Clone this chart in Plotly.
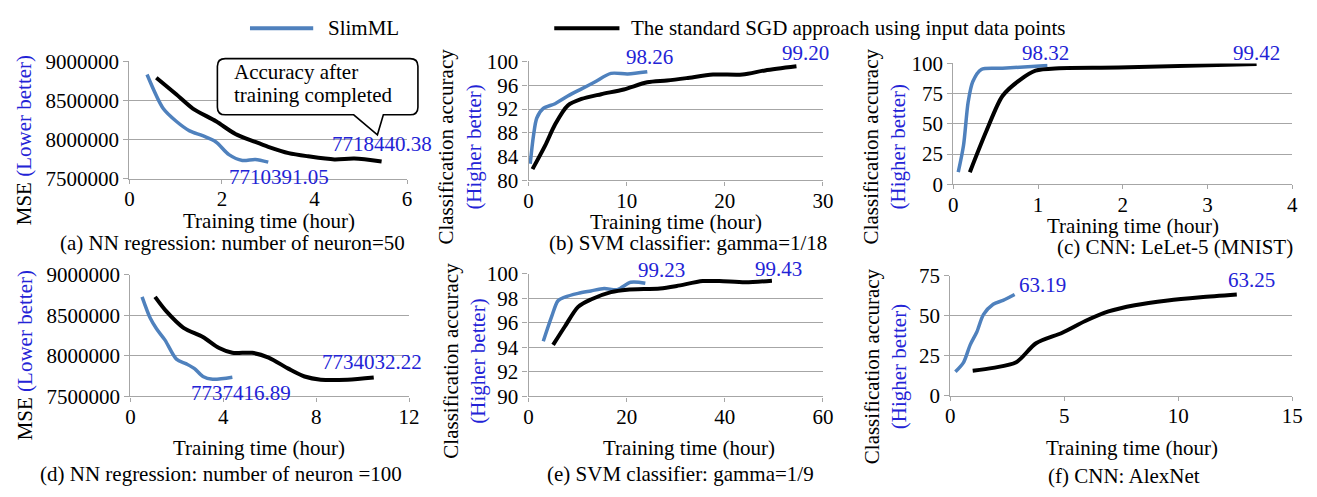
import plotly.graph_objects as go

W, H = 1317, 497
FONT = "Liberation Serif"
FS = 21
BLUE_LINE = "#4F81BD"
BLUE_TEXT = "#2323D6"
GRID = "#A6A6A6"

# ---- data: training time (hour) vs. metric ----
a_slim_t = [0.38, 0.73, 1.01, 1.30, 1.58, 1.87, 2.15, 2.44, 2.72, 3.0]
a_slim = [8833000, 8397000, 8234000, 8111000, 8050000, 7969000, 7806000, 7732000, 7745000, 7710391.05]
a_sgd_t = [0.58, 1.01, 1.37, 1.87, 2.29, 2.72, 3.0, 3.44, 3.86, 4.43, 4.86, 5.45]
a_sgd = [8792000, 8580000, 8397000, 8234000, 8071000, 7969000, 7907000, 7826000, 7785000, 7745000, 7757000, 7718440.38]

b_slim_t = [0.17, 0.5, 0.84, 1.5, 2.7, 4.0, 5.4, 6.7, 8.4, 10.1, 12.1]
b_slim = [82.8, 87.5, 90.5, 92.1, 92.9, 94.2, 95.4, 96.5, 98.0, 97.9, 98.26]
b_sgd_t = [0.4, 1.7, 2.7, 4.0, 5.4, 7.4, 9.7, 12.1, 14.1, 16.1, 18.8, 21.8, 24.1, 27.3]
b_sgd = [81.9, 85.9, 89.4, 92.6, 93.7, 94.5, 95.3, 96.5, 96.8, 97.2, 97.8, 97.8, 98.5, 99.20]

c_slim_t = [0.058, 0.12, 0.175, 0.23, 0.33, 0.58, 1.11]
c_slim = [10, 32, 68, 85, 95, 96, 98.32]
c_sgd_t = [0.195, 0.39, 0.58, 0.78, 0.97, 1.25, 1.95, 3.58]
c_sgd = [10, 44, 73, 86, 94, 96, 96.5, 99.42]

d_slim_t = [0.5, 0.85, 1.13, 1.49, 1.98, 2.41, 2.76, 3.12, 3.54, 4.39]
d_slim = [8727000, 8466000, 8330000, 8194000, 7960000, 7901000, 7843000, 7746000, 7712000, 7737416.89]
d_sgd_t = [1.06, 1.56, 2.27, 3.12, 3.82, 4.39, 5.24, 5.95, 6.8, 7.5, 8.2, 9.35, 10.48]
d_sgd = [8727000, 8544000, 8349000, 8233000, 8096000, 8038000, 8038000, 7979000, 7843000, 7746000, 7707000, 7707000, 7734032.22]

e_slim_t = [3.0, 4.7, 6.0, 7.4, 10.1, 12.7, 15.4, 18.1, 20.8, 23.8]
e_slim = [94.5, 96.5, 97.8, 98.1, 98.4, 98.6, 98.8, 98.7, 99.3, 99.23]
e_sgd_t = [5.0, 7.4, 10.1, 12.7, 16.8, 20.1, 26.8, 30.2, 35.5, 38.9, 44.2, 49.6]
e_sgd = [94.2, 95.7, 97.3, 97.9, 98.5, 98.7, 98.8, 99.0, 99.4, 99.4, 99.3, 99.43]

f_slim_t = [0.22, 0.58, 0.87, 1.16, 1.45, 1.88, 2.31, 2.82]
f_slim = [14.9, 20.8, 31.7, 39.7, 50.6, 57.1, 59.5, 63.19]
f_sgd_t = [0.98, 1.88, 2.89, 3.76, 4.91, 5.92, 6.94, 8.09, 9.54, 10.98, 12.57]
f_sgd = [15.5, 17.3, 20.8, 32.7, 39.3, 46.6, 52.6, 56.5, 59.5, 61.5, 63.25]

subtitles = [
    "(a) NN regression: number of neuron=50",
    "(b) SVM classifier: gamma=1/18",
    "(c) CNN: LeLet-5 (MNIST)",
    "(d) NN regression: number of neuron =100",
    "(e) SVM classifier: gamma=1/9",
    "(f) CNN: AlexNet",
]
legend_names = ["SlimML", "The standard SGD approach using input data points"]
x_title = "Training time (hour)"


def px(x, y):
    return x / W, 1 - y / H


# panel layout: (data, plot box in px, axis ranges/ticks, label placements)
panels = [
    dict(slim=(a_slim_t, a_slim), sgd=(a_sgd_t, a_sgd), box=(126, 407, 52, 175),
         xr=(0, 6, 2), yr=(7500000, 9000000, 500000), mse=True,
         lab_slim=(277, 173), lab_sgd=(382, 139), xt=(267, 220), sub=(230, 243), yt=(20, 135)),
    dict(slim=(b_slim_t, b_slim), sgd=(b_sgd_t, b_sgd), box=(530, 828, 52, 177),
         xr=(0, 30, 10), yr=(80, 100, 4), mse=False,
         lab_slim=(652, 47), lab_sgd=(810, 43), xt=(679, 221), sub=(691, 243), yt=(460, 141)),
    dict(slim=(c_slim_t, c_slim), sgd=(c_sgd_t, c_sgd), box=(960, 1303, 54, 181),
         xr=(0, 4, 1), yr=(0, 100, 25), mse=False,
         lab_slim=(1053, 43), lab_sgd=(1267, 43), xt=(1142, 225), sub=(1184, 247), yt=(890, 141)),
    dict(slim=(d_slim_t, d_slim), sgd=(d_sgd_t, d_sgd), box=(127, 409, 276, 404),
         xr=(0, 12, 4), yr=(7500000, 9000000, 500000), mse=True,
         lab_slim=(239, 400), lab_sgd=(372, 368), xt=(257, 458), sub=(219, 485), yt=(20, 361)),
    dict(slim=(e_slim_t, e_slim), sgd=(e_sgd_t, e_sgd), box=(530, 828, 275, 404),
         xr=(0, 60, 20), yr=(90, 100, 2), mse=False,
         lab_slim=(665, 271), lab_sgd=(783, 270), xt=(692, 458), sub=(684, 485), yt=(465, 366)),
    dict(slim=(f_slim_t, f_slim), sgd=(f_sgd_t, f_sgd), box=(957, 1303, 277, 403),
         xr=(0, 15, 5), yr=(0, 75, 25), mse=False,
         lab_slim=(1050, 287), lab_sgd=(1262, 282), xt=(1141, 458), sub=(1133, 488), yt=(891, 372)),
]

fig = go.Figure()
annotations = []
shapes = []
layout = {}

for i, p in enumerate(panels, start=1):
    sfx = "" if i == 1 else str(i)
    x0, x1, y0, y1 = p["box"]
    layout["xaxis" + sfx] = dict(
        domain=[x0 / W, x1 / W], anchor="y" + sfx, range=[p["xr"][0], p["xr"][1]],
        dtick=p["xr"][2], tick0=0, showgrid=False, zeroline=False,
        showline=True, linecolor=GRID, linewidth=1.3, ticks="outside", ticklen=4,
        ticklabelstandoff=-3,
        tickcolor=GRID, tickfont=dict(family=FONT, size=FS, color="black"),
    )
    layout["yaxis" + sfx] = dict(
        domain=[1 - y1 / H, 1 - y0 / H], anchor="x" + sfx, range=[p["yr"][0], p["yr"][1]],
        dtick=p["yr"][2], tick0=p["yr"][0], showgrid=True, gridcolor=GRID, gridwidth=1.3,
        zeroline=False, showline=True, linecolor=GRID, linewidth=1.3, ticks="outside",
        ticklen=5, tickcolor=GRID, tickformat="d",
        tickfont=dict(family=FONT, size=FS, color="black"),
    )
    xa, ya = "x" + sfx, "y" + sfx
    fig.add_trace(go.Scatter(x=p["slim"][0], y=p["slim"][1], mode="lines", xaxis=xa, yaxis=ya,
                             line=dict(color=BLUE_LINE, width=3.5, shape="spline", smoothing=0.8),
                             showlegend=False, name=legend_names[0]))
    fig.add_trace(go.Scatter(x=p["sgd"][0], y=p["sgd"][1], mode="lines", xaxis=xa, yaxis=ya,
                             line=dict(color="black", width=4, shape="spline", smoothing=0.8),
                             showlegend=False, name=legend_names[1]))

    # end-of-training values
    for key, lab in (("slim", "lab_slim"), ("sgd", "lab_sgd")):
        ax_, ay_ = px(*p[lab])
        annotations.append(dict(x=ax_, y=ay_, xref="paper", yref="paper", showarrow=False,
                                text=f"{p[key][1][-1]:.2f}", xanchor="center", yanchor="middle",
                                font=dict(family=FONT, size=FS, color=BLUE_TEXT)))

    # x axis title
    tx, ty = px(*p["xt"])
    annotations.append(dict(x=tx, y=ty, xref="paper", yref="paper", showarrow=False,
                            text=x_title, xanchor="center", yanchor="middle",
                            font=dict(family=FONT, size=FS, color="black")))
    # subplot caption
    sx, sy = px(*p["sub"])
    annotations.append(dict(x=sx, y=sy, xref="paper", yref="paper", showarrow=False,
                            text=subtitles[i - 1], xanchor="center", yanchor="middle",
                            font=dict(family=FONT, size=FS, color="black")))
    # y axis title
    yx, yy = px(*p["yt"])
    if p["mse"]:
        ytext = f"MSE <span style='color:{BLUE_TEXT}'>(Lower better)</span>"
    else:
        ytext = f"Classification accuracy<br><span style='color:{BLUE_TEXT}'>(Higher better)</span>"
    annotations.append(dict(x=yx, y=yy, xref="paper", yref="paper", showarrow=False,
                            text=ytext, textangle=-90, xanchor="center", yanchor="middle",
                            font=dict(family=FONT, size=FS, color="black")))


# callout bubble in panel (a)
def path_px(cmds):
    out = []
    for c in cmds:
        if isinstance(c, str):
            out.append(c)
        else:
            fx, fy = px(*c)
            out.append(f"{fx:.5f},{fy:.5f}")
    return " ".join(out)


bubble = path_px([
    "M", (223, 49), "L", (410, 49), "Q", (418, 49), (418, 57), "L", (418, 100),
    "Q", (418, 108), (410, 108), "L", (383, 108), "L", (377, 129), "L", (353, 108),
    "L", (223, 108), "Q", (215, 108), (215, 100), "L", (215, 57), "Q", (215, 49), (223, 49), "Z",
])
shapes.append(dict(type="path", path=bubble, xref="paper", yref="paper",
                   line=dict(color="black", width=1.6), fillcolor="white"))
for txt, (bx, by) in (("Accuracy after", (230, 63)), ("training completed", (230, 87))):
    fx, fy = px(bx, by)
    annotations.append(dict(x=fx, y=fy, xref="paper", yref="paper", showarrow=False,
                            text=txt, xanchor="left", yanchor="middle",
                            font=dict(family=FONT, size=FS, color="black")))

# legend
for (lx0, lx1, tx0), color, name in (((248, 312, 325), BLUE_LINE, legend_names[0]),
                                      ((556, 622, 632), "black", legend_names[1])):
    a0, b0 = px(lx0, 17)
    a1, _ = px(lx1, 17)
    shapes.append(dict(type="line", x0=a0, x1=a1, y0=b0, y1=b0, xref="paper", yref="paper",
                       line=dict(color=color, width=4)))
    t0, _ = px(tx0, 17)
    annotations.append(dict(x=t0, y=b0, xref="paper", yref="paper", showarrow=False,
                            text=name, xanchor="left", yanchor="middle",
                            font=dict(family=FONT, size=FS, color="black")))

fig.update_layout(
    width=W, height=H, margin=dict(l=0, r=0, t=0, b=0),
    paper_bgcolor="white", plot_bgcolor="white", showlegend=False,
    annotations=annotations, shapes=shapes, **layout,
)

fig.write_html("out.html")
